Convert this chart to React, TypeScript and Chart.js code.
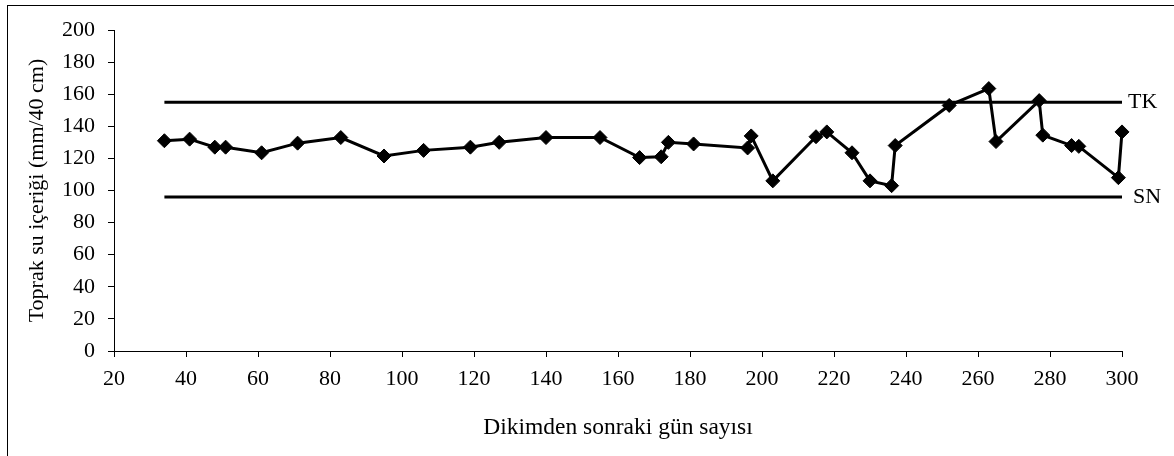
import React, { useEffect, useRef } from "react";
import { Chart, registerables } from "chart.js";

Chart.register(...registerables);

const days = [34, 41, 48, 51, 61, 71, 83, 95, 106, 119, 127, 140, 155, 166, 172, 174, 181, 196, 197, 203, 215, 218, 225, 230, 236, 237, 252, 263, 265, 277, 278, 286, 288, 299, 300];
const water = [131, 132, 127, 127, 123.5, 129.5, 133, 121.5, 125, 127, 130, 133, 133, 120.5, 121, 130, 129, 126.5, 134, 106, 133.5, 136.5, 123.5, 106, 103, 128, 153, 163.5, 130.5, 156, 134.5, 128, 127.5, 108, 136.5];
const refRange = [34, 300];
const tkLevel = 155;
const snLevel = 96;
const refLabels = ["TK", "SN"];
const xTitle = "Dikimden sonraki gün sayısı";
const yTitle = "Toprak su içeriği (mm/40 cm)";

const FONT = "'Liberation Serif', 'Times New Roman', serif";

export default function App() {
  const ref = useRef<HTMLCanvasElement | null>(null);

  useEffect(() => {
    if (!ref.current) return;
    const labelPlugin = {
      id: "refLabels",
      afterDatasetsDraw(chart: any) {
        const { ctx, scales } = chart;
        const xs = scales.x;
        const ys = scales.y;
        ctx.save();
        ctx.font = `22px ${FONT}`;
        ctx.fillStyle = "#000";
        ctx.textAlign = "left";
        ctx.textBaseline = "middle";
        const xe = xs.getPixelForValue(refRange[1]);
        ctx.fillText(refLabels[0], xe + 6, ys.getPixelForValue(tkLevel));
        ctx.fillText(refLabels[1], xe + 11, ys.getPixelForValue(snLevel));
        ctx.restore();
      },
    };
    const chart = new Chart(ref.current, {
      type: "scatter",
      data: {
        datasets: [
          {
            label: "TK",
            data: refRange.map((d) => ({ x: d, y: tkLevel })),
            showLine: true,
            borderColor: "#000",
            borderWidth: 3,
            pointRadius: 0,
            clip: false,
          },
          {
            label: "SN",
            data: refRange.map((d) => ({ x: d, y: snLevel })),
            showLine: true,
            borderColor: "#000",
            borderWidth: 3,
            pointRadius: 0,
            clip: false,
          },
          {
            label: "Su",
            data: days.map((d, i) => ({ x: d, y: water[i] })),
            showLine: true,
            borderColor: "#000",
            backgroundColor: "#000",
            borderWidth: 3,
            pointStyle: "rectRot",
            pointRadius: 7,
            pointBorderWidth: 1,
            pointBackgroundColor: "#000",
            pointBorderColor: "#000",
            clip: false,
          },
        ],
      },
      options: {
        responsive: false,
        animation: false,
        layout: { padding: { left: 0, right: 52, top: 30, bottom: 0 } },
        plugins: {
          legend: { display: false },
          tooltip: { enabled: false },
        },
        scales: {
          x: {
            type: "linear",
            min: 20,
            max: 300,
            afterFit: (s: any) => {
              s.height = 105;
            },
            ticks: {
              stepSize: 20,
              color: "#000",
              font: { family: FONT, size: 22 },
              padding: 9,
              maxRotation: 0,
            },
            grid: {
              drawOnChartArea: false,
              drawTicks: true,
              tickLength: 6,
              color: "#000",
              lineWidth: 1,
            },
            border: { color: "#000", width: 1 },
            title: {
              display: true,
              text: xTitle,
              color: "#000",
              font: { family: FONT, size: 23.5 },
              padding: { top: 0, bottom: 14 },
            },
          },
          y: {
            type: "linear",
            min: 0,
            max: 200,
            afterFit: (s: any) => {
              s.width = 114;
            },
            ticks: {
              stepSize: 20,
              color: "#000",
              font: { family: FONT, size: 22 },
              padding: 13,
            },
            grid: {
              drawOnChartArea: false,
              drawTicks: true,
              tickLength: 6,
              color: "#000",
              lineWidth: 1,
            },
            border: { color: "#000", width: 1 },
            title: {
              display: true,
              text: yTitle,
              color: "#000",
              font: { family: FONT, size: 22 },
              padding: { top: 24, bottom: 0 },
            },
          },
        },
      },
      plugins: [labelPlugin],
    });
    return () => chart.destroy();
  }, []);

  return (
    <div
      style={{
        position: "fixed",
        left: 0,
        top: 0,
        width: 1174,
        height: 456,
        background: "#fff",
        overflow: "hidden",
      }}
    >
      <canvas
        ref={ref}
        width={1174}
        height={456}
        style={{ position: "absolute", left: 0, top: 0, width: 1174, height: 456 }}
      />
      <div
        style={{
          position: "absolute",
          left: 7,
          top: 5,
          width: 1180,
          height: 470,
          border: "1.5px solid #000",
          pointerEvents: "none",
        }}
      />
    </div>
  );
}
